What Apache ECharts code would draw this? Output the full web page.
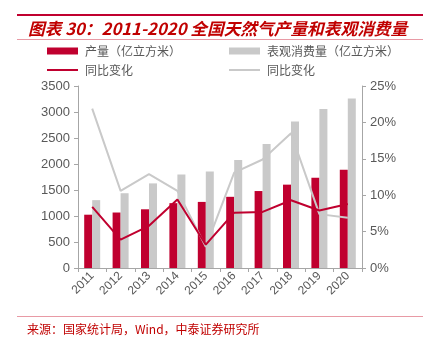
<!DOCTYPE html>
<html><head><meta charset="utf-8">
<script src="https://cdn.jsdelivr.net/npm/echarts@6/dist/echarts.min.js"></script>
<style>html,body{margin:0;padding:0;background:#fff}#c{width:428px;height:341px}</style>
</head><body><div id="c"></div>
<script>
var years = ['2011','2012','2013','2014','2015','2016','2017','2018','2019','2020'];
var production = [1025, 1067, 1129, 1247, 1271, 1369, 1480, 1603, 1736, 1888];
var consumption = [1305, 1438, 1627, 1800, 1855, 2078, 2386, 2817, 3060, 3259];
var prodGrowth = [8.4, 3.9, 5.8, 9.4, 3.2, 7.6, 7.7, 9.3, 7.9, 8.8];
var consGrowth = [21.9, 10.6, 12.9, 10.6, 2.9, 13.1, 14.9, 18.5, 7.4, 6.9];
var leftTicks = [0, 3500, 500];
var rightTicks = [0, 25, 5];

var RED = '#C0002F', GRAY = '#C9C9C9', TXT = '#595959';
var font = 'Liberation Sans, Arial, sans-serif';
var cjk = 'Noto Sans CJK SC, sans-serif';
var chart = echarts.init(document.getElementById('c'));
function lg(name, left, top, h, color) {
  return {data: [{name: name, icon: 'rect', itemStyle: color ? {color: color} : undefined}],
    left: left, top: top, itemWidth: 31, itemHeight: h,
    itemGap: 0, textStyle: {fontFamily: cjk, fontSize: 12, color: TXT, padding: [0,0,0,2]}, padding: 0};
}
chart.setOption({
  animation: false,
  graphic: [
    {type: 'rect', shape: {x: 17, y: 14, width: 406, height: 2}, style: {fill: RED}},
    {type: 'text', left: 28, top: 20, style: {text: '图表 30：2011-2020 全国天然气产量和表观消费量',
      font: 'italic bold 16.7px ' + cjk, fill: '#C00000'}},
    {type: 'rect', shape: {x: 17, y: 39, width: 406, height: 1}, style: {fill: '#E89AA5'}},
    {type: 'rect', shape: {x: 17, y: 316, width: 406, height: 1}, style: {fill: '#E89AA5'}},
    {type: 'text', left: 27, top: 323, style: {text: '来源：国家统计局，Wind，中泰证券研究所',
      font: '12px ' + cjk, fill: '#C00000'}}
  ],
  legend: [
    lg('产量（亿立方米）', 47, 45, 7),
    lg('表观消费量（亿立方米）', 229, 45, 7),
    lg('同比变化', 47, 64, 2, RED),
    lg('同比变化 ', 229, 64, 2, GRAY)
  ],
  grid: {left: 78, right: 66, top: 86, bottom: 73},
  xAxis: {type: 'category', data: years,
    axisLine: {lineStyle: {color: '#A6A6A6'}},
    axisTick: {show: true, alignWithLabel: false, lineStyle: {color: '#A6A6A6'}, length: 4},
    axisLabel: {rotate: 45, color: TXT, fontFamily: font, fontSize: 12, margin: 6}},
  yAxis: [
    {type: 'value', min: leftTicks[0], max: leftTicks[1], interval: leftTicks[2],
      axisLine: {show: true, lineStyle: {color: '#A6A6A6'}},
      axisTick: {show: true, lineStyle: {color: '#A6A6A6'}, length: 4},
      splitLine: {show: false},
      axisLabel: {color: TXT, fontFamily: font, fontSize: 13, margin: 8, formatter: function (v) { return String(v); }}},
    {type: 'value', min: rightTicks[0], max: rightTicks[1], interval: rightTicks[2],
      axisLine: {show: true, lineStyle: {color: '#A6A6A6'}},
      axisTick: {show: true, lineStyle: {color: '#A6A6A6'}, length: 4},
      splitLine: {show: false},
      axisLabel: {color: TXT, fontFamily: font, fontSize: 13, margin: 8, formatter: '{value}%'}}
  ],
  series: [
    {name: '产量（亿立方米）', type: 'bar', data: production, barWidth: 8, barGap: '0%', itemStyle: {color: RED}},
    {name: '表观消费量（亿立方米）', type: 'bar', data: consumption, barWidth: 8, itemStyle: {color: GRAY}},
    {name: '同比变化', type: 'line', yAxisIndex: 1, data: prodGrowth, symbol: 'none',
      lineStyle: {color: RED, width: 2}, itemStyle: {color: RED}, z: 5},
    {name: '同比变化 ', type: 'line', yAxisIndex: 1, data: consGrowth, symbol: 'none',
      lineStyle: {color: GRAY, width: 2}, itemStyle: {color: GRAY}, z: 4}
  ]
});
</script></body></html>
